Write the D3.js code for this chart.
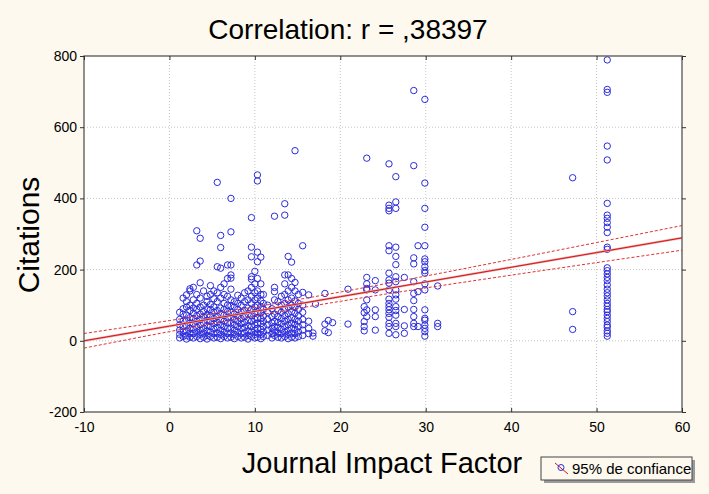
<!DOCTYPE html>
<html><head><meta charset="utf-8">
<script src="https://cdn.jsdelivr.net/npm/d3@7"></script>
<style>
html,body{margin:0;padding:0;background:#fdf9ee;}
svg{display:block;}
text{font-family:"Liberation Sans",Arial,sans-serif;fill:#000;}
</style></head>
<body><svg id="chart" width="709" height="494"></svg>
<script>
// ---- data ----
const title = "Correlation: r = ,38397";
const xLabel = "Journal Impact Factor";
const yLabel = "Citations";
const legendLabel = "95% de confiance";
const xTicks = [-10, 0, 10, 20, 30, 40, 50, 60];
const yTicks = [-200, 0, 200, 400, 600, 800];

const impactFactors = [1.2, 1.6, 2.0, 2.4, 2.8, 3.2, 3.6, 4.0, 4.4, 4.8, 5.2, 5.6, 6.0, 6.4, 6.8, 7.2, 7.6, 8.0, 8.4, 8.8, 9.2, 9.6, 10.0, 10.3, 10.7, 11.0, 11.5, 12.0, 12.3, 12.7, 13.1, 13.5, 13.9, 14.3, 14.7, 15.1, 15.6, 16.3, 16.8, 17.1, 18.2, 18.6, 19.1, 20.9, 22.8, 23.1, 24.1, 25.7, 26.5, 27.5, 28.6, 29.1, 29.9, 31.4, 47.2, 51.25];
const citationsByJournal = [
  [8, 18, 30, 45, 60, 80],
  [12, 25, 40, 55, 75, 90, 120],
  [5, 15, 28, 42, 58, 72, 95, 110, 129],
  [10, 22, 35, 50, 65, 85, 100, 140, 146],
  [8, 20, 32, 48, 62, 78, 92, 115, 150],
  [12, 25, 38, 55, 70, 88, 105, 130, 213, 309],
  [6, 18, 30, 45, 60, 75, 95, 120, 163, 224, 288],
  [10, 22, 35, 50, 68, 82, 100, 140],
  [5, 15, 28, 42, 58, 72, 90, 110, 125],
  [12, 25, 40, 55, 70, 88, 102, 130, 155],
  [8, 20, 33, 48, 62, 80, 95, 118, 140],
  [10, 22, 38, 52, 68, 85, 110, 135, 208, 445],
  [6, 18, 30, 45, 60, 76, 92, 120, 150, 204, 262, 296],
  [12, 25, 40, 55, 72, 88, 105, 130, 160],
  [8, 20, 35, 50, 65, 82, 100, 125, 175, 213],
  [10, 22, 36, 50, 66, 80, 98, 115, 145, 176, 185, 213, 306, 400],
  [6, 18, 30, 45, 60, 75, 95, 110],
  [12, 25, 40, 55, 70, 88, 105, 128],
  [8, 20, 35, 48, 62, 80, 100, 120],
  [10, 22, 38, 52, 68, 85, 110, 135],
  [5, 15, 28, 42, 58, 75, 92, 115, 140],
  [12, 25, 40, 55, 70, 88, 105, 125, 150, 173, 180, 236, 263, 346],
  [8, 18, 30, 45, 60, 78, 95, 115, 135, 160, 195],
  [10, 22, 35, 50, 65, 82, 100, 120, 140, 175, 222, 249, 449, 466],
  [6, 18, 32, 48, 62, 78, 95, 112, 130, 160, 235],
  [12, 25, 40, 55, 70, 88, 105, 130],
  [15, 30, 45, 60, 80, 100],
  [8, 20, 35, 50, 68, 90],
  [15, 28, 40, 55, 75, 115, 138, 150, 350],
  [10, 22, 38, 52, 68, 85, 110],
  [8, 20, 32, 48, 62, 80, 100, 125],
  [12, 25, 40, 55, 70, 88, 105, 130, 160, 185, 353, 385],
  [6, 18, 30, 45, 60, 76, 95, 115, 140, 185, 237],
  [10, 22, 36, 50, 65, 82, 100, 120, 150, 175, 221],
  [8, 20, 32, 46, 60, 78, 95, 112, 140, 164, 534],
  [12, 25, 40, 55, 70, 88, 105, 130],
  [15, 30, 45, 60, 80, 100, 136, 267],
  [20, 35, 55, 129],
  [13, 22],
  [103],
  [133, 47, 28],
  [57, 23],
  [51],
  [145, 47],
  [96, 79, 54, 40, 28],
  [513, 178, 147, 143, 68, 115, 160, 87],
  [169, 143, 87, 68, 30],
  [497, 381, 372, 365, 267, 253, 190, 171, 162, 143, 117, 105, 96, 87, 77, 66, 49, 40, 21],
  [461, 390, 372, 263, 237, 214, 180, 166, 143, 129, 117, 96, 85, 72, 49, 40, 17],
  [178, 88, 42, 21],
  [703, 492, 233, 216, 166, 133, 113, 88, 68, 49, 40],
  [267, 138, 40],
  [678, 443, 372, 319, 267, 230, 222, 208, 197, 190, 160, 143, 87, 63, 58, 44, 35, 26, 13],
  [154, 49, 40],
  [458, 82, 32],
  [789, 706, 698, 547, 508, 386, 353, 344, 332, 319, 304, 263, 257, 205, 197, 188, 178, 169, 157, 145, 135, 126, 115, 105, 97, 88, 82, 72, 63, 54, 44, 38, 28, 21, 13]
];

// regression line and 95% confidence band
const fitX = [-10, 0, 10, 20, 30, 40, 50, 60];
const fitY = [0, 41.3, 82.6, 123.9, 165.2, 206.5, 247.8, 289.1];
const upperY = [20.5, 56.8, 95.1, 136.9, 181.9, 228.6, 276, 323.7];
const lowerY = [-20.5, 25.8, 70.1, 110.9, 148.5, 184.4, 219.6, 254.5];

// ---- layout ----
const svg = d3.select("#chart");
const W = 709, H = 494;
const m = {left: 84, right: 27, top: 56, bottom: 82};
const pw = W - m.left - m.right, ph = H - m.top - m.bottom;
const FONT = '"Liberation Sans",Arial,sans-serif';

svg.append("rect").attr("width", W).attr("height", H).attr("fill", "#fdf9ee");

const x = d3.scaleLinear().domain([-10, 60]).range([m.left, m.left + pw]);
const y = d3.scaleLinear().domain([-200, 800]).range([m.top + ph, m.top]);

svg.append("rect").attr("x", m.left).attr("y", m.top).attr("width", pw).attr("height", ph).attr("fill", "#fff");

// grid
const grid = svg.append("g");
grid.selectAll(".gx").data(xTicks.slice(1, -1)).join("line")
  .attr("x1", d => x(d)).attr("x2", d => x(d)).attr("y1", m.top).attr("y2", m.top + ph)
  .attr("stroke", "#c4c4c4").attr("stroke-dasharray", "1,2").attr("stroke-width", 1);
grid.selectAll(".gy").data(yTicks.slice(1, -1)).join("line")
  .attr("y1", d => y(d)).attr("y2", d => y(d)).attr("x1", m.left).attr("x2", m.left + pw)
  .attr("stroke", "#c4c4c4").attr("stroke-dasharray", "1,2").attr("stroke-width", 1);

// clip
svg.append("clipPath").attr("id", "clip").append("rect")
  .attr("x", m.left).attr("y", m.top).attr("width", pw).attr("height", ph);

// points
const points = [];
impactFactors.forEach((f, i) => citationsByJournal[i].forEach(c => points.push([f, c])));
svg.append("g").attr("clip-path", "url(#clip)")
  .selectAll("circle").data(points).join("circle")
  .attr("cx", d => x(d[0])).attr("cy", d => y(d[1])).attr("r", 3.2)
  .attr("fill", "none").attr("stroke", "#2b2bdc").attr("stroke-width", 1);

// fit lines
const lineGen = ys => d3.line().curve(d3.curveMonotoneX)
  .x((d, i) => x(fitX[i])).y(d => y(d))(ys);
const fitG = svg.append("g").attr("clip-path", "url(#clip)");
fitG.append("path").attr("d", lineGen(upperY)).attr("fill", "none")
  .attr("stroke", "#e03030").attr("stroke-width", 1).attr("stroke-dasharray", "3,2");
fitG.append("path").attr("d", lineGen(lowerY)).attr("fill", "none")
  .attr("stroke", "#e03030").attr("stroke-width", 1).attr("stroke-dasharray", "3,2");
fitG.append("path").attr("d", lineGen(fitY)).attr("fill", "none")
  .attr("stroke", "#f4a0a0").attr("stroke-width", 2.2);
fitG.append("path").attr("d", lineGen(fitY)).attr("fill", "none")
  .attr("stroke", "#cc1818").attr("stroke-width", 1);

// frame
svg.append("rect").attr("x", m.left).attr("y", m.top).attr("width", pw).attr("height", ph)
  .attr("fill", "none").attr("stroke", "#555").attr("stroke-width", 1.3);

// axes
const fmt = d => String(d);
const axB = svg.append("g").attr("transform", `translate(0,${m.top + ph})`)
  .call(d3.axisBottom(x).tickValues(xTicks).tickSize(-4).tickPadding(10).tickFormat(fmt));
const axT = svg.append("g").attr("transform", `translate(0,${m.top})`)
  .call(d3.axisTop(x).tickValues(xTicks).tickSize(-4).tickFormat(""));
const axL = svg.append("g").attr("transform", `translate(${m.left},0)`)
  .call(d3.axisLeft(y).tickValues(yTicks).tickSize(4).tickPadding(3).tickFormat(fmt));
const axR = svg.append("g").attr("transform", `translate(${m.left + pw},0)`)
  .call(d3.axisRight(y).tickValues(yTicks).tickSize(4).tickFormat(""));
[axB, axT, axL, axR].forEach(a => {
  a.select(".domain").remove();
  a.selectAll(".tick line").attr("stroke", "#333");
  a.selectAll("text").style("font-family", FONT).style("font-size", "14px").attr("fill", "#000");
});

// titles
svg.append("text").attr("x", 348).attr("y", 39).attr("text-anchor", "middle")
  .style("font-size", "28px").text(title);
svg.append("text").attr("x", 382).attr("y", 473).attr("text-anchor", "middle")
  .style("font-size", "29px").text(xLabel);
svg.append("text").attr("transform", "translate(39,235) rotate(-90)").attr("text-anchor", "middle")
  .style("font-size", "30px").text(yLabel);

// legend
const lg = svg.append("g");
lg.append("rect").attr("x", 544).attr("y", 460).attr("width", 151).attr("height", 23).attr("fill", "#9a9a9a");
lg.append("rect").attr("x", 541).attr("y", 457).attr("width", 151).attr("height", 23)
  .attr("fill", "#fdf9ee").attr("stroke", "#444").attr("stroke-width", 1);
lg.append("line").attr("x1", 555).attr("y1", 463).attr("x2", 568).attr("y2", 474)
  .attr("stroke", "#cc1818").attr("stroke-width", 1);
lg.append("circle").attr("cx", 561).attr("cy", 467.5).attr("r", 3)
  .attr("fill", "none").attr("stroke", "#2b2bdc");
lg.append("text").attr("x", 572).attr("y", 474).style("font-size", "15px").text(legendLabel);
</script></body></html>
